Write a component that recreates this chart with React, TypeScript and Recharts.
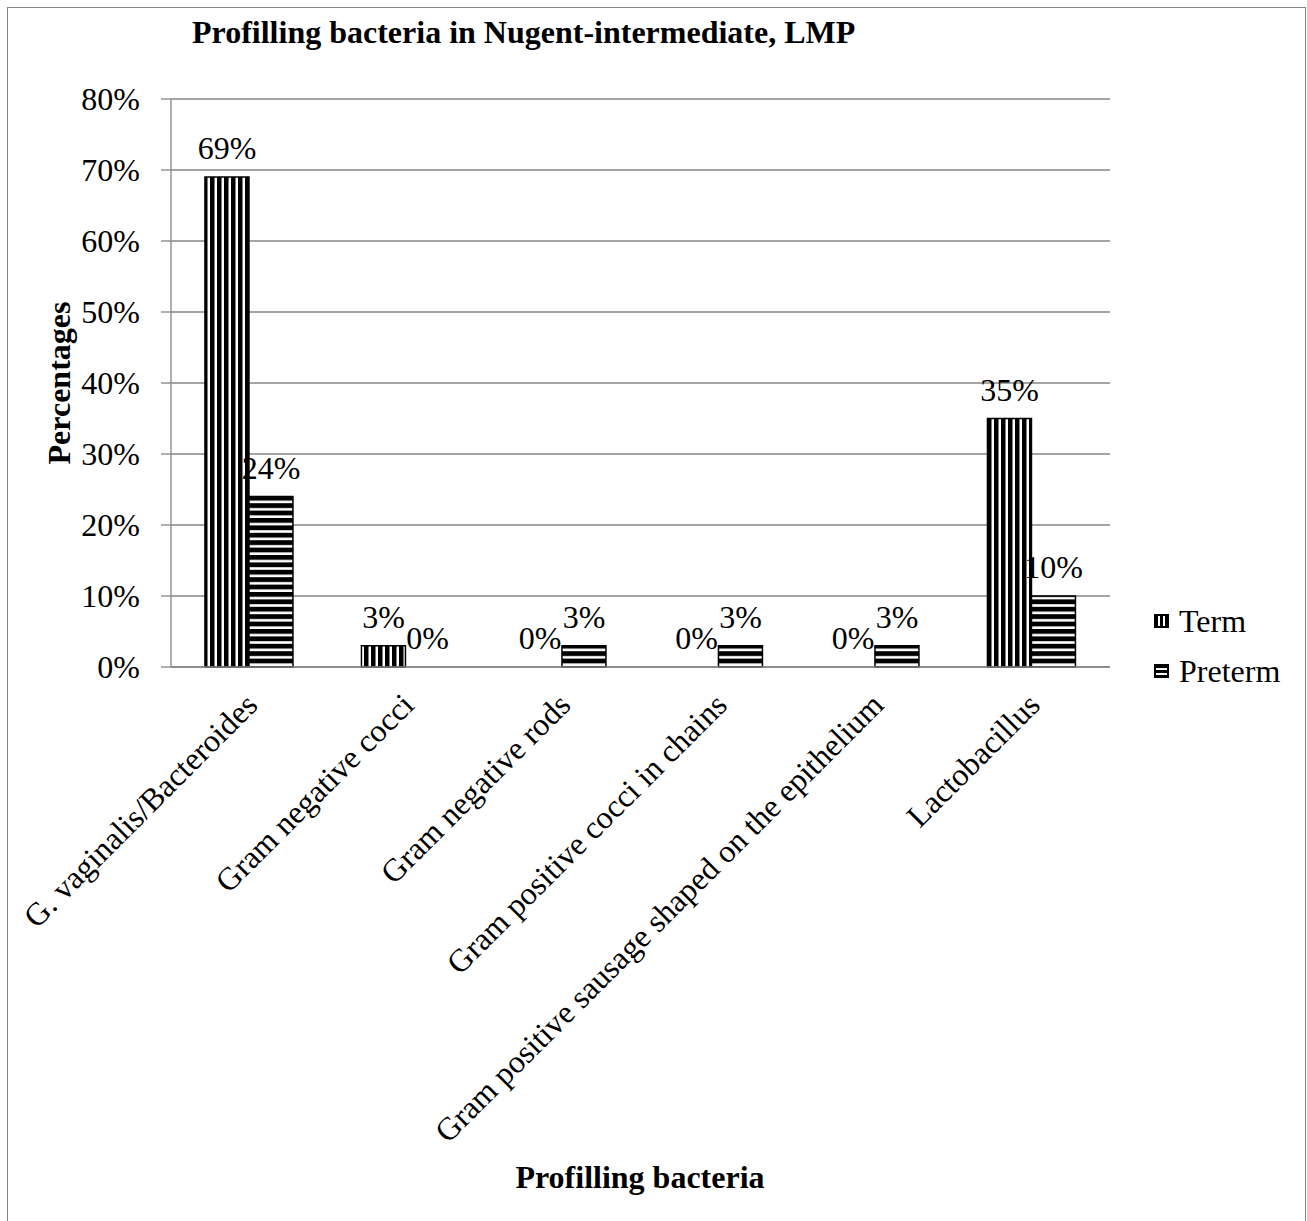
import { Bar, BarChart, CartesianGrid, LabelList, Rectangle, XAxis, YAxis } from "recharts";

const categories = [
  "G. vaginalis/Bacteroides",
  "Gram negative cocci",
  "Gram negative rods",
  "Gram positive cocci in chains",
  "Gram positive sausage shaped on the epithelium",
  "Lactobacillus",
];
const termValues = [69, 3, 0, 0, 0, 35];
const pretermValues = [24, 0, 3, 3, 3, 10];
const yTicks = [0, 10, 20, 30, 40, 50, 60, 70, 80];
const seriesNames = ["Term", "Preterm"];

const data = categories.map((name, i) => ({
  name,
  term: termValues[i],
  preterm: pretermValues[i],
}));

const FONT = '"Liberation Serif", "Times New Roman", serif';
const GRID = "#868686";

const pct = (v: number) => `${v}%`;

// zero-valued bars keep a hairline slot so their "0%" label still gets placed
const keepZero = (v: number) => (v === 0 ? 0.01 : 0);

// draw nothing for the zero bars, a normal outlined rectangle otherwise
function StripedBar(props: any) {
  if (!props.value) return <g />;
  return <Rectangle {...props} />;
}

function CategoryTick({ x, y, payload }: any) {
  return (
    <text
      x={0}
      y={0}
      transform={`translate(${x + 10},${y + 40}) rotate(-45)`}
      textAnchor="end"
      fontSize={32}
      fontFamily={FONT}
      fill="#000"
    >
      {payload.value}
    </text>
  );
}

function LegendIcon({ kind }: { kind: string }) {
  return (
    <svg width={17} height={16} style={{ display: "block" }}>
      <rect x={1} y={1} width={15} height={14} fill="#000" />
      {kind === "Term" ? (
        <>
          <rect x={5} y={3} width={2} height={10} fill="#fff" />
          <rect x={10} y={3} width={2} height={10} fill="#fff" />
        </>
      ) : (
        <>
          <rect x={3} y={5} width={11} height={2} fill="#fff" />
          <rect x={3} y={10} width={11} height={2} fill="#fff" />
        </>
      )}
    </svg>
  );
}

export default function App() {
  return (
    <div
      style={{
        position: "absolute",
        left: 0,
        top: 0,
        width: 1307,
        height: 1221,
        background: "#fff",
        overflow: "hidden",
      }}
    >
      <div
        style={{
          position: "absolute",
          left: 7,
          top: 7,
          width: 1299,
          height: 1300,
          boxSizing: "border-box",
          border: `1px solid ${GRID}`,
        }}
      />
      <BarChart
        width={1307}
        height={1221}
        data={data}
        margin={{ top: 99, right: 197, left: 0, bottom: 0 }}
        barCategoryGap="21.7%"
        barGap={0}
        style={{ position: "absolute", left: 0, top: 0 }}
      >
        <defs>
          <pattern id="vstripe" patternUnits="userSpaceOnUse" width={7} height={10}>
            <rect x={0} y={0} width={7} height={10} fill="#fff" />
            <rect x={0} y={0} width={4.5} height={10} fill="#000" />
          </pattern>
          <pattern id="hstripe" patternUnits="userSpaceOnUse" width={10} height={7.4}>
            <rect x={0} y={0} width={10} height={7.4} fill="#fff" />
            <rect x={0} y={0} width={10} height={4.8} fill="#000" />
          </pattern>
        </defs>
        <CartesianGrid vertical={false} stroke={GRID} strokeWidth={1.3} />
        <XAxis
          dataKey="name"
          height={554}
          interval={0}
          tickLine={false}
          tickSize={0}
          tickMargin={0}
          axisLine={{ stroke: GRID, strokeWidth: 1.3 }}
          tick={<CategoryTick />}
        />
        <YAxis
          width={171}
          domain={[0, 80]}
          ticks={yTicks}
          tickFormatter={pct}
          tickSize={10}
          tickMargin={21}
          axisLine={{ stroke: GRID, strokeWidth: 1.3 }}
          tickLine={{ stroke: GRID, strokeWidth: 1.3 }}
          tick={{ fontSize: 32, fontFamily: FONT, fill: "#000" }}
        />
        <Bar
          dataKey="term"
          name={seriesNames[0]}
          fill="url(#vstripe)"
          stroke="#000"
          strokeWidth={1.5}
          minPointSize={keepZero}
          shape={StripedBar}
          isAnimationActive={false}
        >
          <LabelList
            dataKey="term"
            position="top"
            offset={18}
            formatter={pct}
            fontSize={32}
            fontFamily={FONT}
            fill="#000"
          />
        </Bar>
        <Bar
          dataKey="preterm"
          name={seriesNames[1]}
          fill="url(#hstripe)"
          stroke="#000"
          strokeWidth={1.5}
          minPointSize={keepZero}
          shape={StripedBar}
          isAnimationActive={false}
        >
          <LabelList
            dataKey="preterm"
            position="top"
            offset={18}
            formatter={pct}
            fontSize={32}
            fontFamily={FONT}
            fill="#000"
          />
        </Bar>
        <text x={192} y={43} fontSize={32} fontWeight="bold" fontFamily={FONT} fill="#000">
          Profilling bacteria in Nugent-intermediate, LMP
        </text>
        <text
          x={0}
          y={0}
          transform="translate(70,383) rotate(-90)"
          textAnchor="middle"
          fontSize={32}
          fontWeight="bold"
          fontFamily={FONT}
          fill="#000"
        >
          Percentages
        </text>
        <text
          x={640}
          y={1188}
          textAnchor="middle"
          fontSize={32}
          fontWeight="bold"
          fontFamily={FONT}
          fill="#000"
        >
          Profilling bacteria
        </text>
      </BarChart>
      <div
        style={{
          position: "absolute",
          left: 1153,
          top: 596,
          fontFamily: FONT,
          fontSize: 32,
          color: "#000",
        }}
      >
        {seriesNames.map((s) => (
          <div key={s} style={{ display: "flex", alignItems: "center", height: 50 }}>
            <LegendIcon kind={s} />
            <span style={{ marginLeft: 9, lineHeight: "36px" }}>{s}</span>
          </div>
        ))}
      </div>
    </div>
  );
}
